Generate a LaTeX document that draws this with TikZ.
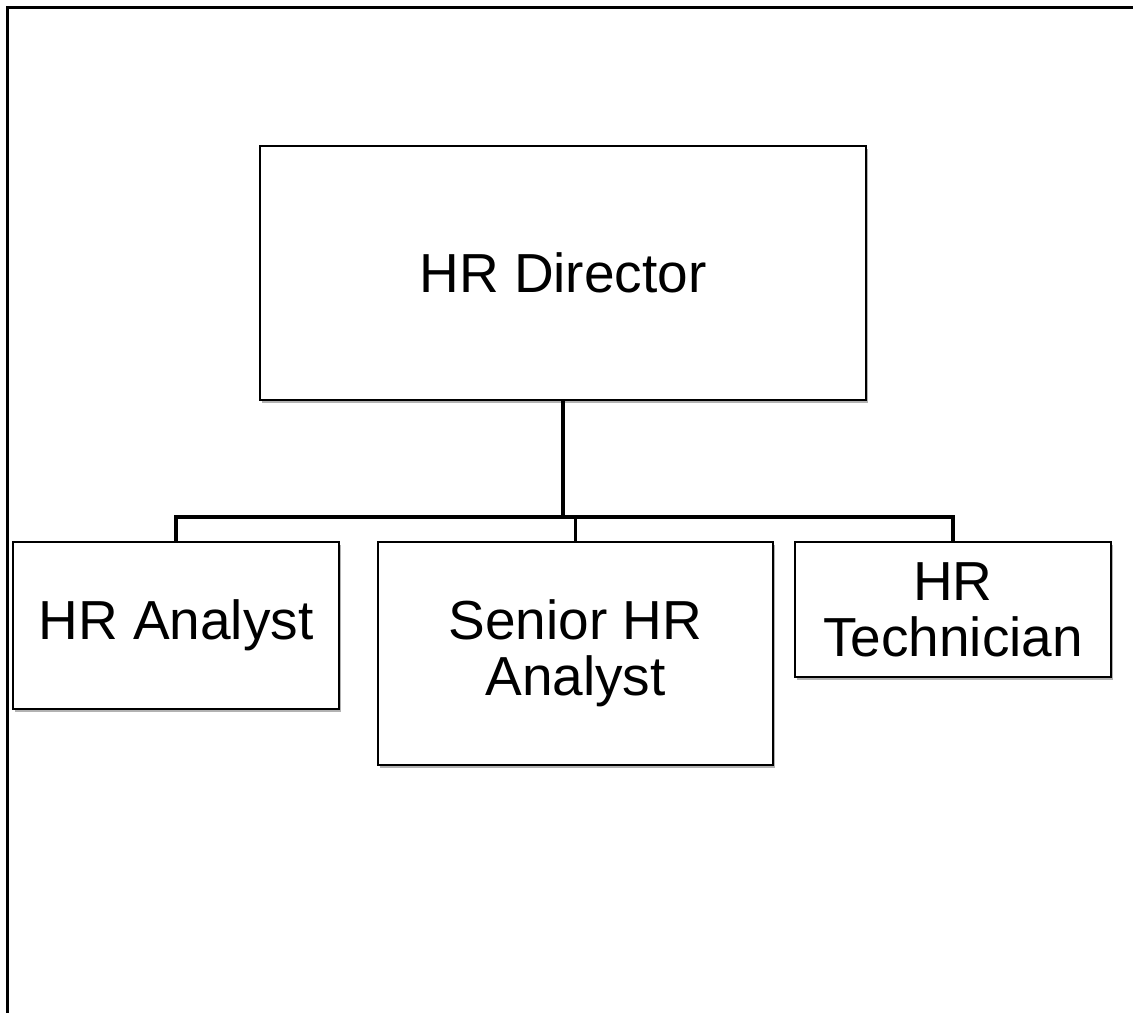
\documentclass[tikz,border=0pt]{standalone}
\usepackage{fontspec}
\setmainfont{Liberation Sans}
\usetikzlibrary{shadows}
\begin{document}
\begin{tikzpicture}[x=1pt,y=-1pt,
  rolebox/.style={draw=black, line width=1.8pt, fill=white, align=center,
    inner sep=0pt, font=\fontsize{55}{56}\selectfont,
    drop shadow={shadow xshift=1.5pt, shadow yshift=-2.5pt, opacity=0.3, fill=black}},
  link/.style={line width=3pt, draw=black}]
  \useasboundingbox (0,0) rectangle (1133,1013);
  \fill[white] (0,0) rectangle (1133,1013);
  % frame: top and left edges
  \draw[line width=3pt] (1133,7) -- (7,7) -- (7,1013);

  % org chart boxes
  \node[rolebox, minimum width=606pt, minimum height=254pt] (dir) at (563,273) {HR Director};
  \node[rolebox, minimum width=326pt, minimum height=167pt] (analyst) at (176,625.5) {HR Analyst};
  \node[rolebox, minimum width=395pt, minimum height=223pt] (senior) at (575.5,653.5) {Senior HR\\Analyst};
  \node[rolebox, minimum width=316pt, minimum height=135pt] (tech) at (953,609.5) {HR\\Technician};

  % reporting lines
  \coordinate (hub) at (563,518);
  \draw[link, line width=4.5pt] (dir.south) -- (hub);
  \draw[link, line width=3.5pt] (analyst.north) -- ++(0,-24) -| (tech.north);
  \draw[link] (senior.north) -- ++(0,-24);
\end{tikzpicture}
\end{document}
